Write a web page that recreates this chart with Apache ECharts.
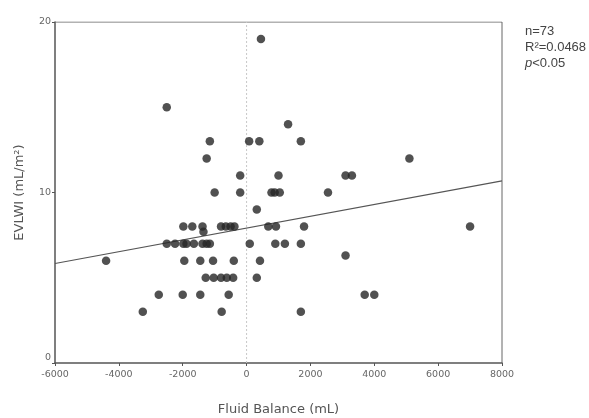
<!DOCTYPE html>
<html>
<head>
<meta charset="utf-8">
<script src="https://cdn.jsdelivr.net/npm/echarts@6/dist/echarts.min.js"></script>
<style>
  html, body { margin: 0; padding: 0; background: #fff; }
  #chart { width: 589px; height: 418px; }
</style>
</head>
<body>
<div id="chart"></div>
<script>
// Fluid balance (mL) vs EVLWI (mL/m²), one patient per point
const fluidBalance = [
  450, -2500, 1300,
  -1150, 80, 400, 1700,
  -1250, 5100,
  -200, 1000, 3100, 3300,
  -1000, -200, 780, 880, 1040, 2550,
  320,
  -1980, -1700, -1380, -800, -650, -500, -380, 680, 920, 1800, 7000,
  -1350,
  -2500, -2240, -1980, -1880, -1650, -1380, -1250, -1150, 100, 900, 1200, 1700,
  3100,
  -4400, -1950, -1450, -1050, -400, 420,
  -1280, -1030, -800, -620, -420, 320,
  -2750, -2000, -1450, -560, 3700, 4000,
  -3250, -780, 1700
];
const evlwi = [
  19, 15, 14,
  13, 13, 13, 13,
  12, 12,
  11, 11, 11, 11,
  10, 10, 10, 10, 10, 10,
  9,
  8, 8, 8, 8, 8, 8, 8, 8, 8, 8, 8,
  7.7,
  7, 7, 7, 7, 7, 7, 7, 7, 7, 7, 7, 7,
  6.3,
  6, 6, 6, 6, 6, 6,
  5, 5, 5, 5, 5, 5,
  4, 4, 4, 4, 4, 4,
  3, 3, 3
];

// Linear fit: EVLWI = intercept + slope * fluid balance
const fitIntercept = 7.91;
const fitSlope = 0.000346;
const fitRangeX = [-6000, 8000];

const xTicks = [-6000, -4000, -2000, 0, 2000, 4000, 6000, 8000];
const yTicks = [0, 10, 20];

const stats = ['n=73', 'R²=0.0468', '{i|p}<0.05'];

const points = fluidBalance.map((x, i) => [x, evlwi[i]]);
const fitLine = fitRangeX.map(x => [x, fitIntercept + fitSlope * x]);

const chart = echarts.init(document.getElementById('chart'), null, { renderer: 'canvas' });

const tickFont = { color: '#666', fontSize: 9.5, fontFamily: 'DejaVu Sans' };
const nameFont = { color: '#555', fontSize: 13, fontFamily: 'DejaVu Sans' };
const xMin = xTicks[0], xMax = xTicks[xTicks.length - 1];
const yMin = yTicks[0], yMax = yTicks[yTicks.length - 1];

chart.setOption({
  animation: false,
  backgroundColor: '#fff',
  grid: { left: 55, right: 87, top: 22, bottom: 55, containLabel: false, outerBoundsMode: 'none' },
  xAxis: {
    type: 'value',
    min: xMin, max: xMax, interval: 2000,
    name: 'Fluid Balance (mL)', nameLocation: 'middle', nameGap: 40,
    nameTextStyle: nameFont,
    axisLine: { onZero: false, lineStyle: { color: '#555', width: 1.5 } },
    axisTick: { show: true, length: 3, lineStyle: { color: '#555' } },
    axisLabel: Object.assign({ margin: 7, formatter: v => String(v) }, tickFont),
    splitLine: { show: false }
  },
  yAxis: {
    type: 'value',
    min: yMin, max: yMax, interval: 10,
    name: 'EVLWI (mL/m²)', nameLocation: 'middle', nameGap: 29,
    nameTextStyle: nameFont,
    axisLine: { onZero: false, lineStyle: { color: '#555', width: 1.5 } },
    axisTick: { show: true, length: 3, lineStyle: { color: '#555' } },
    axisLabel: Object.assign({
      margin: 4,
      // the bottom label sits just above the x axis line
      formatter: v => (v === yMin ? '{low|' + v + '}' : String(v)),
      rich: { low: { color: '#666', fontSize: 9.5, fontFamily: 'DejaVu Sans', padding: [0, 0, 10, 0] } }
    }, tickFont),
    splitLine: { show: false }
  },
  graphic: [
    {
      type: 'text', left: 525, top: 23,
      style: {
        text: stats.join('\n'),
        rich: { i: { fontStyle: 'italic', fontSize: 13, fontFamily: 'Liberation Sans', fill: '#444', lineHeight: 16 } },
        font: '13px "Liberation Sans"', fill: '#444', lineHeight: 16
      }
    }
  ],
  series: [
    {
      // plot frame (top and right edges)
      type: 'line', silent: true, symbol: 'none',
      data: [[xMin, yMax], [xMax, yMax], [xMax, yMin]],
      lineStyle: { color: '#666', width: 1 },
      z: 1
    },
    {
      // zero fluid balance reference
      type: 'line', silent: true, symbol: 'none',
      data: [[0, yMin], [0, yMax]],
      lineStyle: { color: '#c8c8c8', width: 1, type: [2, 2] },
      z: 1
    },
    {
      type: 'line', silent: true, symbol: 'none',
      data: fitLine,
      lineStyle: { color: '#555', width: 1.2 },
      z: 2
    },
    {
      type: 'scatter',
      data: points,
      symbol: 'circle', symbolSize: 8.5,
      itemStyle: { color: '#262626' },
      z: 3
    }
  ]
});
</script>
</body>
</html>
